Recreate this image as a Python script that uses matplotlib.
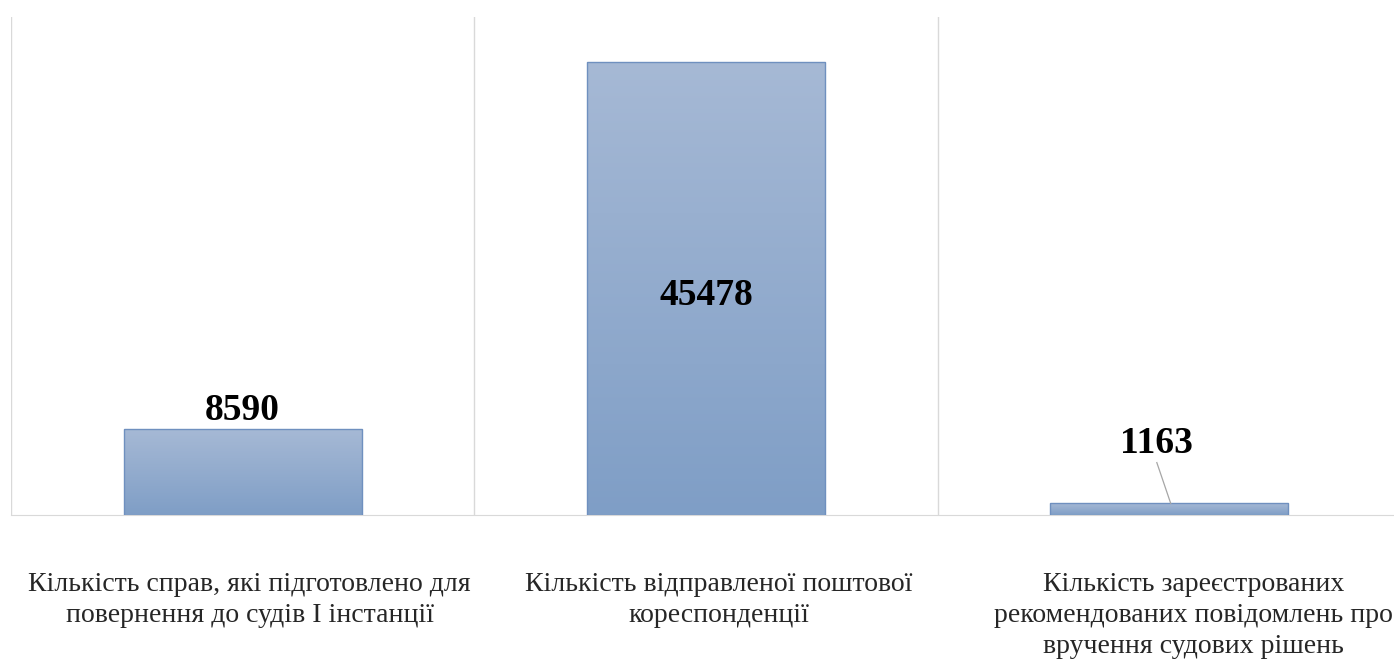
import matplotlib
matplotlib.use("Agg")
import matplotlib.pyplot as plt
import numpy as np
from matplotlib.colors import LinearSegmentedColormap

categories = [
    "Кількість справ, які підготовлено для\nповернення до судів І інстанції",
    "Кількість відправленої поштової\nкореспонденції",
    "Кількість зареєстрованих\nрекомендованих повідомлень про\nвручення судових рішень",
]
values = [8590, 45478, 1163]

plt.rcParams["font.family"] = ["Liberation Serif", "DejaVu Serif"]

fig = plt.figure(figsize=(13.94, 6.63), dpi=100)
ax = fig.add_axes([11 / 1394, 148 / 663, 1390 / 1394, 498 / 663])

x = np.arange(len(values))
bars = ax.bar(x, values, width=0.514, color="none", edgecolor="#6f90bf", linewidth=1.0, zorder=3)

# vertical gradient inside each bar (light on top, darker at the bottom)
cmap = LinearSegmentedColormap.from_list("bar", ["#7f9ec6", "#a6b9d5"])
grad = np.linspace(0, 1, 256).reshape(-1, 1)
for b in bars:
    x0, w, h = b.get_x(), b.get_width(), b.get_height()
    im = ax.imshow(grad, cmap=cmap, origin="lower", aspect="auto",
                   extent=(x0, x0 + w, 0, h), zorder=2)
    im.set_clip_path(b)

ax.set_xlim(-0.5, 2.5)
ax.set_ylim(0, 50000)

for s in ["top", "right", "left"]:
    ax.spines[s].set_visible(False)
ax.spines["bottom"].set_color("#d9d9d9")
ax.set_yticks([])
ax.set_xticks([])
for xb in [-0.5, 0.5, 1.5, 2.5]:
    ax.axvline(xb, color="#d9d9d9", linewidth=1.0, zorder=1)

# value labels
ax.text(0, values[0] + 1900, str(values[0]), ha="center", va="center",
        fontsize=27, fontweight="bold")
ax.text(1, values[1] / 2 - 700, str(values[1]), ha="center", va="center",
        fontsize=27, fontweight="bold")
ax.text(1.973, values[2] + 6000, str(values[2]), ha="center", va="center",
        fontsize=27, fontweight="bold")
ax.plot([1.973, 2.003], [values[2] + 4100, values[2]], color="#a6a6a6",
        linewidth=0.9, zorder=4)

# category labels, slightly right of the bar centres as in the source
offsets = [0.015, 0.028, 0.052]
for i, lab in enumerate(categories):
    ax.text(i + offsets[i], -5700, lab, ha="center", va="top",
            fontsize=20, linespacing=1.32, color="#262626")

fig.savefig("out.png", dpi=100)
